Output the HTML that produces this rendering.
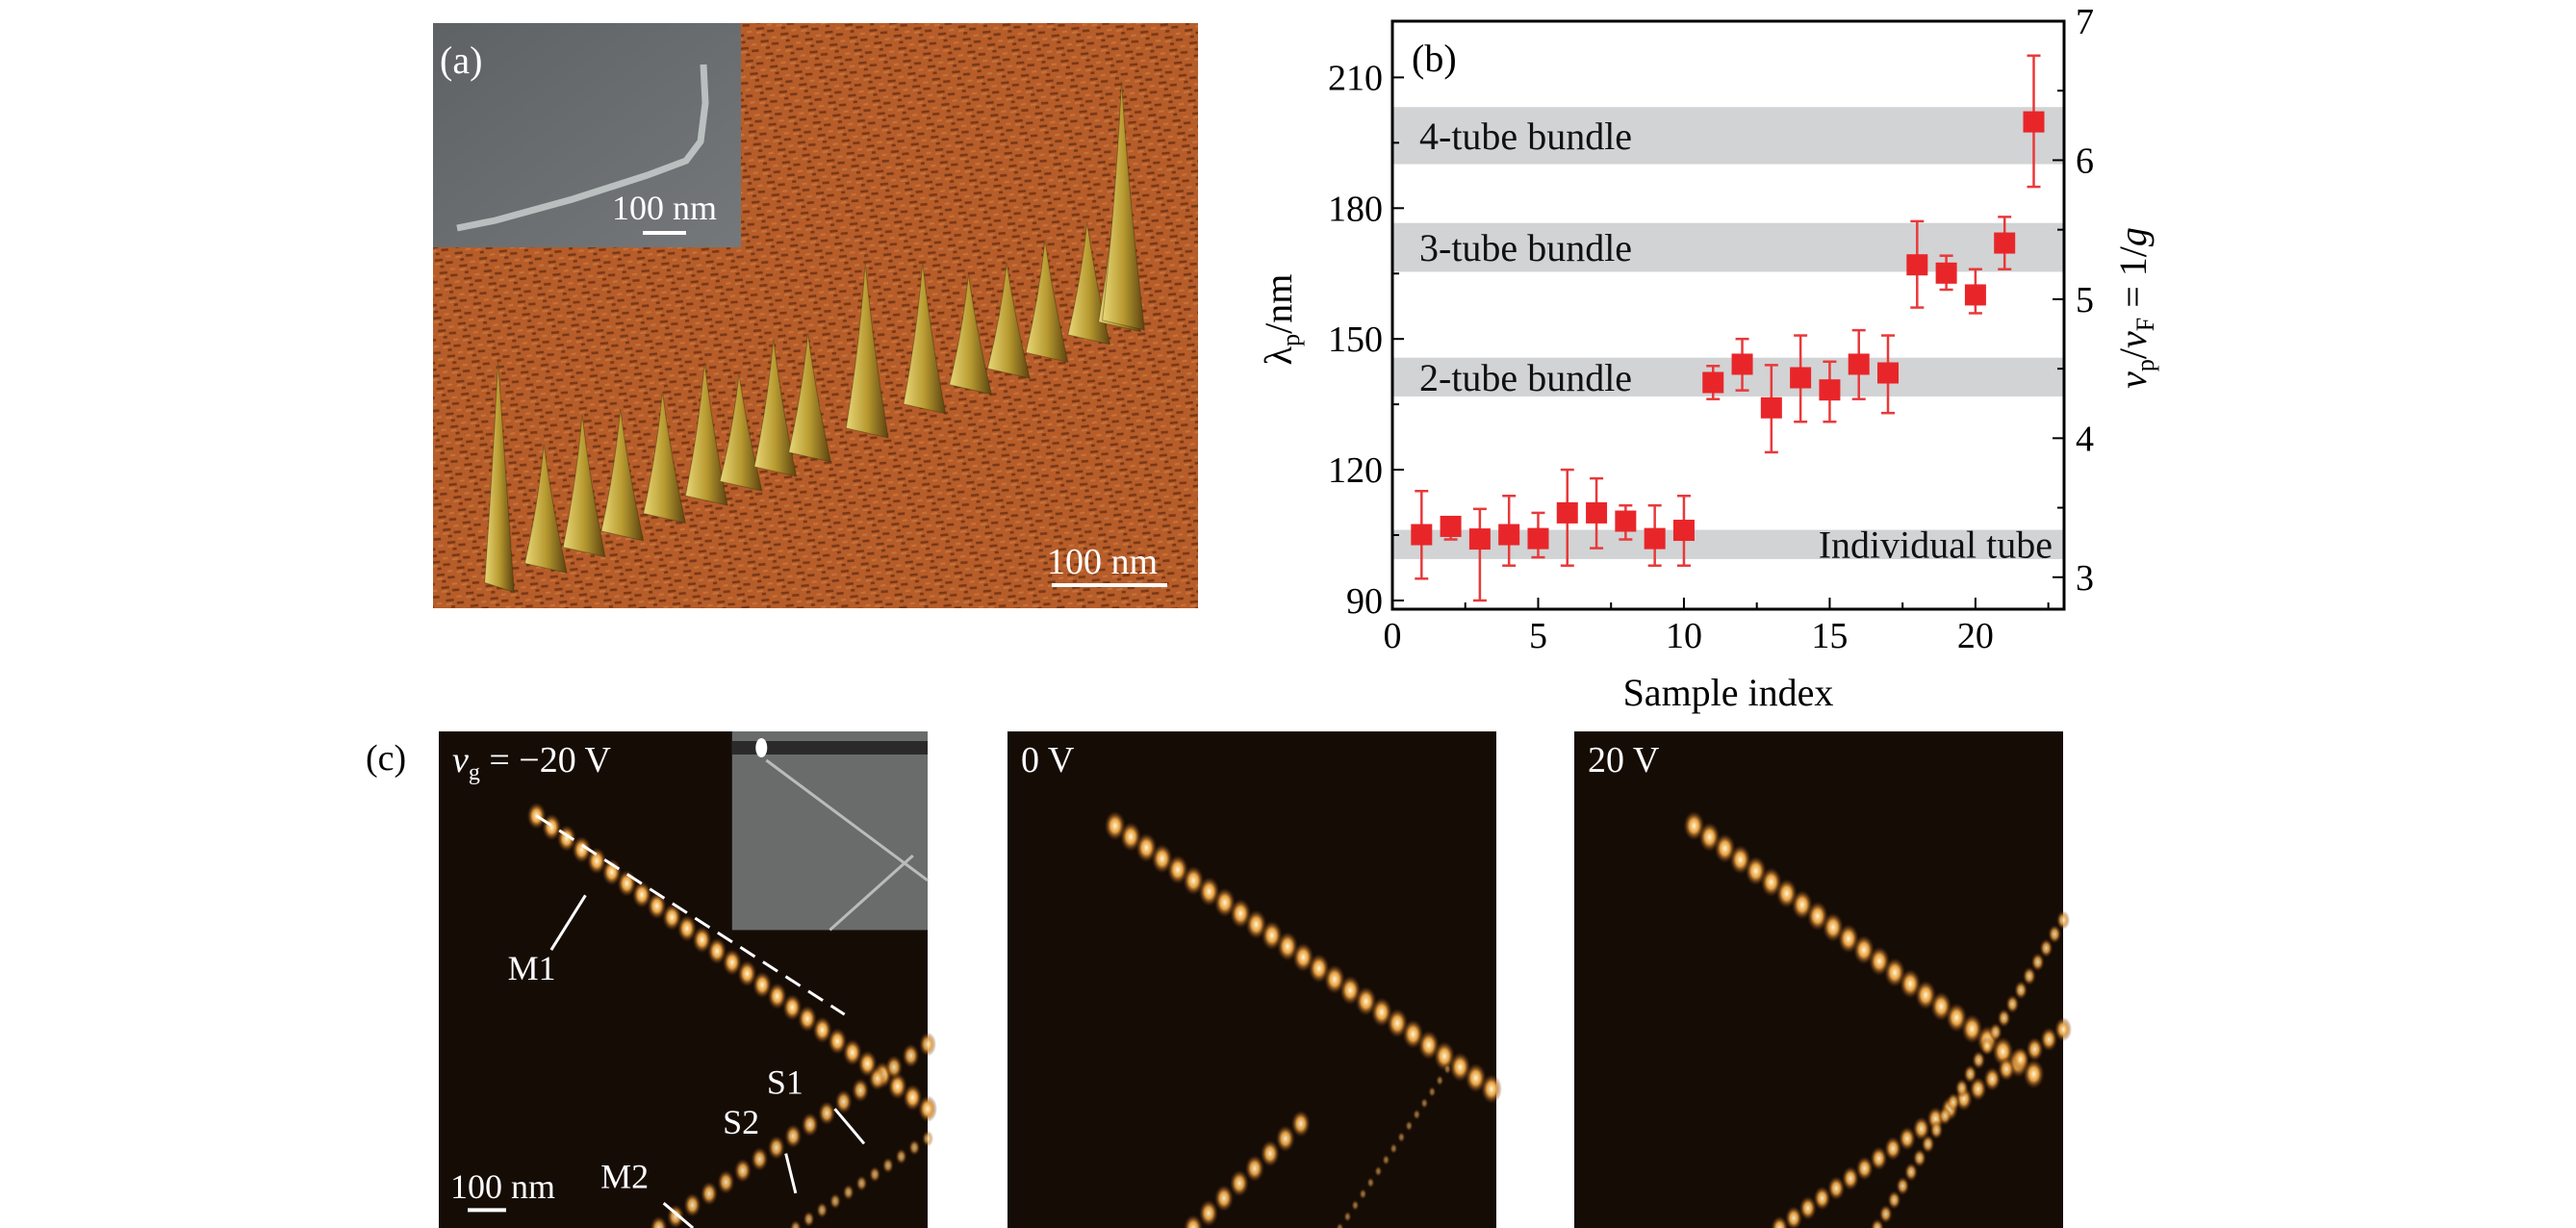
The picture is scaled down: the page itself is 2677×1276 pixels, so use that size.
<!DOCTYPE html>
<html><head><meta charset="utf-8">
<style>
html,body{margin:0;padding:0;background:#fff;}
body{width:2677px;height:1276px;position:relative;overflow:hidden;font-family:"Liberation Serif",serif;}
svg{position:absolute;left:0;top:0;}
</style></head>
<body>
<svg id="fig" width="2677" height="1276" viewBox="0 0 2677 1276" xmlns="http://www.w3.org/2000/svg">
<defs>
<pattern id="afm" width="22" height="14" patternUnits="userSpaceOnUse" patternTransform="rotate(-20)">
<rect width="22" height="14" fill="#b65d2a"/>
<path d="M2 3 l8 2 M12 9 l7 2 M5 11 l4 1" stroke="#7a3816" stroke-width="2.5"/>
<path d="M14 3 l5 1 M1 7 l6 1" stroke="#c9733a" stroke-width="2"/>
</pattern>
<linearGradient id="peak" x1="0" y1="0" x2="1" y2="0">
<stop offset="0" stop-color="#e8d878"/><stop offset="0.5" stop-color="#b89a30"/><stop offset="1" stop-color="#5a4210"/>
</linearGradient>
<radialGradient id="bead"><stop offset="0" stop-color="#fff6d0"/><stop offset="0.45" stop-color="#e8a040"/><stop offset="1" stop-color="#5a2a08" stop-opacity="0"/></radialGradient>
<linearGradient id="sem" x1="0" y1="0" x2="1" y2="1"><stop offset="0" stop-color="#5e6264"/><stop offset="1" stop-color="#74787a"/></linearGradient>
</defs>

<g id="panelA">
<rect x="450" y="24" width="795" height="608" fill="url(#afm)"/>
<g id="peaks"></g>
<rect x="450" y="24" width="320" height="233" fill="url(#sem)"/>
<path d="M475 237 L515 229 L595 207 L673 182 L713 167 L728 147 L733 107 L731 67" stroke="#c8cccc" stroke-width="7" fill="none" opacity="0.85"/>
<text x="457" y="76" font-size="40" fill="#fff">(a)</text>
<text x="636" y="228" font-size="36" fill="#fff">100 nm</text>
<rect x="668" y="240" width="45" height="4" fill="#fff"/>
<text x="1088" y="596" font-size="38" fill="#fff">100 nm</text>
<rect x="1093" y="606" width="120" height="4" fill="#fff"/>
</g>

<g id="chartB"></g>

<g id="panelC">
<text x="380" y="800" font-size="38" fill="#000">(c)</text>
<g id="c1"></g><g id="c2"></g><g id="c3"></g>
</g>
</svg>

<script>
const sampleIndex = [1,2,3,4,5,6,7,8,9,10,11,12,13,14,15,16,17,18,19,20,21,22];
const lambdaP = [105.1,107.0,104.1,105.1,104.2,110.1,110.1,108.2,104.2,106.1,140.0,144.2,134.2,141.1,138.3,144.2,142.2,167.0,165.1,160.1,172.0,199.8];
const errTop = [115.1,108.8,111.0,114.0,110.1,120.0,118.0,111.8,111.8,114.0,143.8,150.0,144.0,150.8,144.8,152.0,150.8,177.0,169.1,166.0,178.0,215.0];
const errBottom = [95.0,104.0,90.0,98.0,99.9,98.0,102.0,104.0,98.0,98.0,136.2,138.2,124.0,131.0,131.0,136.2,133.0,157.2,161.3,155.9,166.0,184.9];
const bandNames = ["4-tube bundle","3-tube bundle","2-tube bundle","Individual tube"];
const bandLow = [190.1,165.4,136.8,99.5];
const bandHigh = [203.2,176.6,145.7,106.2];
const xTicks = [0,5,10,15,20];
const yTicks = [90,120,150,180,210];
const y2Ticks = [3,4,5,6,7];

const NS="http://www.w3.org/2000/svg";
function mk(tag, attrs, parent){const e=document.createElementNS(NS,tag);for(const k in attrs)e.setAttribute(k,attrs[k]);parent.appendChild(e);return e;}

const L=1447,R=2145,T=22,B=633;
const xMin=0,xMax=23.04, yMin=88.0, yMax=222.9;
const y2Min=2.77, y2Max=7.0;
function sx(v){return L+(v-xMin)/(xMax-xMin)*(R-L);}
function sy(v){return B-(v-yMin)/(yMax-yMin)*(B-T);}
function sy2(v){return B-(v-y2Min)/(y2Max-y2Min)*(B-T);}

const g=document.getElementById('chartB');
bandNames.forEach((n,i)=>{
  const r=mk('rect',{x:L,y:sy(bandHigh[i]),width:R-L,height:sy(bandLow[i])-sy(bandHigh[i]),fill:'#d2d3d4'},g);
  
  
  const isLast=i===bandNames.length-1;
  const t=mk('text',{x:isLast?R-12:L+28,y:(sy(bandHigh[i])+sy(bandLow[i]))/2+14,'font-size':40,'text-anchor':isLast?'end':'start',fill:'#111'},g);
  t.textContent=n;
  
  
});
sampleIndex.forEach((s,i)=>{
  const x=sx(s);
  const e=mk('g',{stroke:'#e8393b','stroke-width':2.5},g);
  
  
  mk('line',{x1:x,x2:x,y1:sy(errTop[i]),y2:sy(errBottom[i])},e);
  mk('line',{x1:x-7,x2:x+7,y1:sy(errTop[i]),y2:sy(errTop[i])},e);
  mk('line',{x1:x-7,x2:x+7,y1:sy(errBottom[i]),y2:sy(errBottom[i])},e);
  const m=mk('rect',{x:x-11,y:sy(lambdaP[i])-11,width:22,height:22,fill:'#e8262a'},g);
  
  
});
const fr=mk('rect',{x:L,y:T,width:R-L,height:B-T,fill:'none',stroke:'#000','stroke-width':3},g);


for(let v=0;v<=22.5;v+=2.5){
  const major=v%5===0;
  mk('line',{x1:sx(v),x2:sx(v),y1:B,y2:B-(major?12:7),stroke:'#000','stroke-width':2},g);
}
xTicks.forEach(v=>{
  const t=mk('text',{x:sx(v),y:B+40,'font-size':38,'text-anchor':'middle'},g);
  t.textContent=v;
  
  
});
for(let v=90;v<=210;v+=15){
  const major=(v-90)%30===0;
  mk('line',{x1:L,x2:L+(major?12:7),y1:sy(v),y2:sy(v),stroke:'#000','stroke-width':2},g);
}
yTicks.forEach(v=>{
  const t=mk('text',{x:L-10,y:sy(v)+13,'font-size':38,'text-anchor':'end'},g);
  t.textContent=v;
  
  
});
for(let v=3;v<=6.5;v+=0.5){
  const major=v%1===0;
  mk('line',{x1:R,x2:R-(major?12:7),y1:sy2(v),y2:sy2(v),stroke:'#000','stroke-width':2},g);
}
y2Ticks.forEach(v=>{
  const t=mk('text',{x:R+12,y:sy2(v)+13,'font-size':38,'text-anchor':'start'},g);
  t.textContent=v;
  
  
});
const pl=mk('text',{x:L+20,y:T+52,'font-size':40},g);pl.textContent='(b)';


const xt=mk('text',{x:(L+R)/2,y:B+100,'font-size':40,'text-anchor':'middle'},g);xt.textContent='Sample index';


const yt=mk('text',{x:0,y:0,'font-size':40,'text-anchor':'middle',transform:'translate(1342,332) rotate(-90)'},g);
yt.innerHTML='λ<tspan font-size="26" dy="8">p</tspan><tspan dy="-8">/nm</tspan>';


const y2t=mk('text',{x:0,y:0,'font-size':40,'text-anchor':'middle',transform:'translate(2230,320) rotate(-90)'},g);
y2t.innerHTML='<tspan font-style="italic">v</tspan><tspan font-size="26" dy="8">p</tspan><tspan dy="-8">/</tspan><tspan font-style="italic">v</tspan><tspan font-size="26" dy="8">F</tspan><tspan dy="-8"> = 1/</tspan><tspan font-style="italic">g</tspan>';



(function(){
  const pg=document.getElementById('peaks');
  const X0=450,Y0=24,W=795,H=608;
  const tips=[[0.085,0.58],[0.145,0.72],[0.195,0.67],[0.245,0.66],[0.3,0.63],[0.355,0.58],[0.4,0.6],[0.445,0.54],[0.49,0.53],[0.565,0.41],[0.64,0.41],[0.7,0.43],[0.75,0.41],[0.8,0.37],[0.855,0.34],[0.895,0.24],[0.9,0.1]];
  tips.forEach(([fx,fy])=>{
    const by=0.97-(fx-0.06)*0.55;
    const w=fx<0.1?0.035:0.05;
    const x=X0+fx*W, yt=Y0+fy*H, yb=Y0+by*H;
    mk('path',{d:`M${x-w*W*0.5} ${yb} Q${x-6} ${(yt+yb)/2} ${x} ${yt} Q${x+8} ${(yt+yb)/2} ${x+w*W*0.6} ${yb+10} Z`,fill:'url(#peak)',stroke:'#3a2a08','stroke-width':1,'stroke-opacity':0.4},pg);
  });
})();

const CW=508, CY=760, CH=516;
function panelC(id,x0,w,lines,label,inset){
  const G=document.getElementById(id);
  const y0=CY,h=CH;
  const bg=mk('rect',{x:x0,y:y0,width:w,height:h,fill:'#160c06'},G);
  
  
  lines.forEach(([ax,ay,bx,by,n,r,op])=>{
    for(let k=0;k<=n;k++){
      const t=k/n;
      mk('ellipse',{cx:x0+(ax+(bx-ax)*t)*w,cy:y0+(ay+(by-ay)*t)*h,rx:r,ry:r*1.4,fill:'url(#bead)',opacity:op},G);
    }
  });
  if(inset){
    mk('rect',{x:x0+0.6*w,y:y0,width:0.4*w,height:0.4*h,fill:'#6a6c6c'},G);
    mk('rect',{x:x0+0.6*w,y:y0+10,width:0.4*w,height:14,fill:'#2a2a2a'},G);
    mk('ellipse',{cx:x0+0.66*w,cy:y0+17,rx:6,ry:10,fill:'#fff'},G);
    mk('line',{x1:x0+0.67*w,y1:y0+30,x2:x0+w,y2:y0+0.3*h,stroke:'#bbb','stroke-width':3},G);
    mk('line',{x1:x0+0.8*w,y1:y0+0.4*h,x2:x0+0.97*w,y2:y0+0.25*h,stroke:'#bbb','stroke-width':3},G);
  }
  const t=mk('text',{x:x0+14,y:y0+42,'font-size':38,fill:'#fff'},G);
  t.innerHTML=label;
  
  
}
panelC('c1',456,CW,[[0.2,0.17,1.0,0.76,26,10,1],[0.45,1.0,1.0,0.63,16,9,0.9],[0.73,1.0,1.0,0.82,10,6,0.7]],'<tspan font-style="italic">v</tspan><tspan font-size="24" dy="8">g</tspan><tspan dy="-8"> = −20 V</tspan>',true);
panelC('c2',1047,CW,[[0.22,0.19,0.99,0.72,24,11,1],[0.38,1.0,0.6,0.79,7,10,0.95],[0.68,1.0,0.9,0.68,14,4,0.5]],'0 V',false);
panelC('c3',1636,CW,[[0.245,0.19,0.94,0.69,22,11,1],[0.42,1.0,1.0,0.6,20,9,0.95],[0.62,1.0,1.0,0.38,22,7,0.85]],'20 V',false);
(function(){
  const G=document.getElementById('c1');
  const x0=456,y0=CY,w=CW,h=CH;
  mk('line',{x1:x0+0.2*w,y1:y0+0.17*h,x2:x0+0.83*w,y2:y0+0.57*h,stroke:'#fff','stroke-width':3,'stroke-dasharray':'18 10'},G);
  const lab=[['M1',x0+0.2*w,y0+0.5*h],['S1',x0+0.73*w,y0+0.73*h],['S2',x0+0.64*w,y0+0.81*h],['M2',x0+0.39*w,y0+0.92*h]];
  lab.forEach(([s,x,y])=>{const t=mk('text',{x:x-30,y:y,'font-size':36,fill:'#fff'},G);t.textContent=s;
    
    });
  const arr=[[0.23,0.44,0.3,0.33],[0.81,0.76,0.87,0.83],[0.71,0.85,0.73,0.93],[0.46,0.95,0.52,1.0]];
  arr.forEach(([a,b,c,d])=>mk('line',{x1:x0+a*w,y1:y0+b*h,x2:x0+c*w,y2:y0+d*h,stroke:'#fff','stroke-width':3},G));
  const s=mk('text',{x:x0+12,y:y0+0.94*h,'font-size':36,fill:'#fff'},G);s.textContent='100 nm';
  
  
  mk('rect',{x:x0+30,y:y0+0.96*h,width:40,height:4,fill:'#fff'},G);
})();
</script>
</body></html>
